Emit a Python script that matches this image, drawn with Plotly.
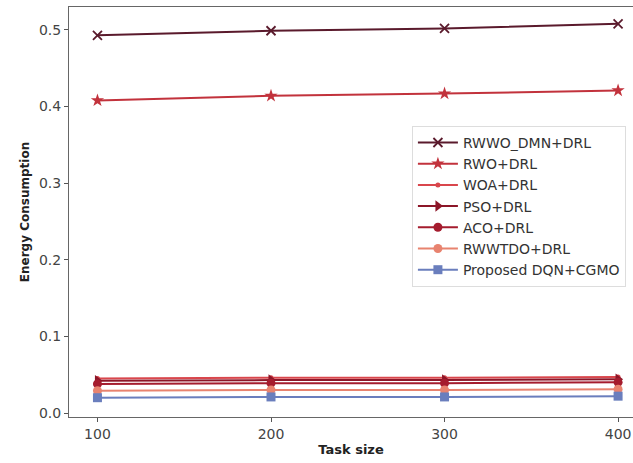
import plotly.graph_objects as go

task_sizes = [100, 200, 300, 400]
rwwo_dmn = [0.493, 0.499, 0.502, 0.508]
rwo = [0.408, 0.414, 0.417, 0.421]
woa = [0.045, 0.046, 0.046, 0.047]
pso = [0.042, 0.043, 0.043, 0.044]
aco = [0.038, 0.039, 0.039, 0.040]
rwwtdo = [0.029, 0.030, 0.030, 0.031]
proposed = [0.020, 0.021, 0.021, 0.022]

names = ["RWWO_DMN+DRL", "RWO+DRL", "WOA+DRL", "PSO+DRL", "ACO+DRL", "RWWTDO+DRL", "Proposed DQN+CGMO"]
series = [rwwo_dmn, rwo, woa, pso, aco, rwwtdo, proposed]
colors = ["#5a1a2c", "#c2323c", "#d9464c", "#8c1628", "#a51c2e", "#e8836f", "#6a7ebd"]
symbols = ["x-thin", "star", "circle", "triangle-right", "circle", "circle", "square"]
sizes = [9, 10, 5, 10, 9, 9, 9]

fig = go.Figure()
for n, s, c, sym, sz in zip(names, series, colors, symbols, sizes):
    marker = dict(symbol=sym, size=sz, color=c)
    if sym == "x-thin":
        marker["line"] = dict(color=c, width=1.8)
    fig.add_trace(go.Scatter(x=task_sizes, y=s, name=n, mode="lines+markers",
                             line=dict(color=c, width=2), marker=marker))

fig.update_layout(
    width=633, height=463,
    margin=dict(l=69, r=0, t=7, b=46, autoexpand=False),
    paper_bgcolor="white", plot_bgcolor="white",
    font=dict(family="DejaVu Sans", size=14, color="#444"),
    showlegend=True,
    legend=dict(x=0.608, y=0.71, xanchor="left", yanchor="top",
                bgcolor="rgba(255,255,255,0.9)", bordercolor="#ddd", borderwidth=1,
                font=dict(family="DejaVu Sans", size=14, color="#333"),
                tracegroupgap=0, itemwidth=40),
    xaxis=dict(range=[83.6, 408.6], tickvals=task_sizes, ticks="outside", ticklen=4,
               tickcolor="#555", showline=True, linecolor="#666", linewidth=1, mirror=True,
               showgrid=False, zeroline=False, automargin=False,
               title=dict(text="<b>Task size</b>", standoff=4,
                          font=dict(family="DejaVu Sans", size=13, color="#222"))),
    yaxis=dict(range=[-0.0052, 0.53], tickvals=[0, 0.1, 0.2, 0.3, 0.4, 0.5],
               ticktext=["0.0", "0.1", "0.2", "0.3", "0.4", "0.5"],
               ticks="outside", ticklen=4, tickcolor="#555", showline=True,
               linecolor="#666", linewidth=1, showgrid=False, zeroline=False,
               automargin=False,
               title=dict(text="<b>Energy Consumption</b>", standoff=6,
                          font=dict(family="DejaVu Sans", size=12, color="#222"))),
)

fig.write_html("out.html", config={"displayModeBar": False},
               post_script="document.body.style.margin='0';document.body.style.overflow='hidden';")
